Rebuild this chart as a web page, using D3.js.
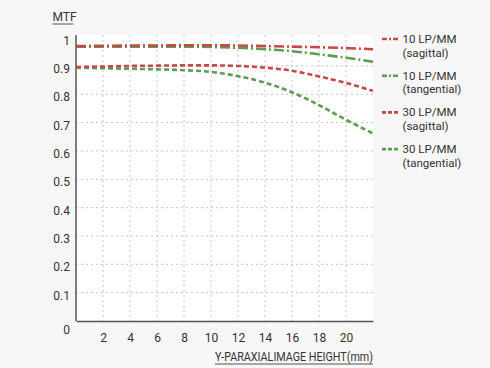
<!DOCTYPE html>
<html><head><meta charset="utf-8">
<script src="https://cdn.jsdelivr.net/npm/d3@7"></script>
<style>
body{margin:0;background:#f7f7f7;}
svg{display:block;font-family:Roboto,"Noto Sans",sans-serif;}
</style></head>
<body><svg id="c" width="490" height="368"></svg>
<script>
const heights = [0,2,4,6,8,10,12,14,16,18,20,22];
const xTicks = [2,4,6,8,10,12,14,16,18,20];
const yTicks = [0.1,0.2,0.3,0.4,0.5,0.6,0.7,0.8,0.9,1];
const yTickLabels = ["0.1","0.2","0.3","0.4","0.5","0.6","0.7","0.8","0.9","1"];
const s10sag = [0.970,0.971,0.972,0.972,0.973,0.973,0.972,0.970,0.968,0.966,0.963,0.959];
const s10tan = [0.968,0.968,0.968,0.968,0.968,0.967,0.964,0.959,0.952,0.941,0.929,0.915];
const s30sag = [0.896,0.898,0.900,0.901,0.902,0.902,0.900,0.894,0.883,0.863,0.840,0.812];
const s30tan = [0.894,0.892,0.890,0.888,0.885,0.879,0.864,0.841,0.807,0.762,0.710,0.662];
const seriesNames = [["10 LP/MM","(sagittal)"],["10 LP/MM","(tangential)"],["30 LP/MM","(sagittal)"],["30 LP/MM","(tangential)"]];

const RED="#c8474a", GREEN="#5b9e4d";
const series = [
  {v:s10sag,c:RED,d:"10,3,2,3",n:seriesNames[0],z:1},
  {v:s10tan,c:GREEN,d:"10,3,2,3",n:seriesNames[1],z:0},
  {v:s30sag,c:RED,d:"5,3",n:seriesNames[2],z:1},
  {v:s30tan,c:GREEN,d:"5,3",n:seriesNames[3],z:0}
];

const svg=d3.select("#c");
const L=76,R=373,T=35,B=321;
const x=d3.scaleLinear().domain([0,22]).range([L,R]);
const y=d3.scaleLinear().domain([0,1]).range([B,37.6]);

svg.append("rect").attr("x",L).attr("y",T).attr("width",R-L).attr("height",B-T).attr("fill","#fff");

// grid
svg.append("g").selectAll("line").data(xTicks).join("line")
  .attr("x1",d=>x(d)).attr("x2",d=>x(d)).attr("y1",T).attr("y2",B)
  .attr("stroke","#c8c8c8").attr("stroke-width",1).attr("stroke-dasharray","2,3");
svg.append("g").selectAll("line").data(yTicks.filter(d=>d<1)).join("line")
  .attr("x1",L).attr("x2",R).attr("y1",d=>y(d)).attr("y2",d=>y(d))
  .attr("stroke","#c8c8c8").attr("stroke-width",1).attr("stroke-dasharray","2,3");

// axes
const xa=svg.append("g").attr("transform",`translate(0,${B})`)
  .call(d3.axisBottom(x).tickValues(xTicks).tickSize(0).tickPadding(12).tickSizeOuter(0));
xa.select(".domain").attr("stroke","#555").attr("stroke-width",1.5);
xa.selectAll("text").attr("font-size",12).attr("fill","#333").attr("font-family","Roboto");

const ya=svg.append("g").attr("transform",`translate(${L},0)`)
  .call(d3.axisLeft(y).tickValues(yTicks).tickFormat((d,i)=>yTickLabels[i]).tickSize(0).tickPadding(6).tickSizeOuter(0));
ya.select(".domain").attr("stroke","#555").attr("stroke-width",1.5).attr("d",`M0,${T}V${B}`);
ya.selectAll("text").attr("font-size",12).attr("fill","#333").attr("dy","0.55em").attr("font-family","Roboto");

svg.append("text").attr("x",70).attr("y",334).attr("text-anchor","end").attr("font-size",12).attr("fill","#333").text("0");

// lines (green underneath red)
const line=d3.line().x((d,i)=>x(heights[i])).y(d=>y(d)).curve(d3.curveMonotoneX);
svg.append("g").selectAll("path").data(series.slice().sort((a,b)=>a.z-b.z)).join("path")
  .attr("d",d=>line(d.v)).attr("fill","none").attr("stroke",d=>d.c)
  .attr("stroke-width",2.6).attr("stroke-dasharray",d=>d.d);

// legend
const lg=svg.append("g").selectAll("g").data(series).join("g")
  .attr("transform",(d,i)=>`translate(382,${39+i*36.7})`);
lg.append("line").attr("x1",0).attr("x2",16).attr("y1",0).attr("y2",0)
  .attr("stroke",d=>d.c).attr("stroke-width",2.6).attr("stroke-dasharray",d=>d.d==="5,3"?"4,2":"5,2,2,2");
lg.append("text").attr("x",20.5).attr("y",4).attr("font-size",11.5).attr("fill","#333").text(d=>d.n[0]);
lg.append("text").attr("x",20.5).attr("y",17.5).attr("font-size",11.5).attr("fill","#333").text(d=>d.n[1]);

// titles
svg.append("text").attr("x",52.5).attr("y",21).attr("font-size",12).attr("fill","#333").text("MTF");
svg.append("line").attr("x1",52.5).attr("x2",73.5).attr("y1",24).attr("y2",24).attr("stroke","#555").attr("stroke-width",1);
svg.append("text").attr("x",373).attr("y",361).attr("text-anchor","end").attr("font-size",12).attr("fill","#333")
  .attr("textLength",158).attr("lengthAdjust","spacingAndGlyphs").text("Y-PARAXIALIMAGE HEIGHT(mm)");
svg.append("line").attr("x1",215).attr("x2",373).attr("y1",364).attr("y2",364).attr("stroke","#555").attr("stroke-width",1);
</script></body></html>
